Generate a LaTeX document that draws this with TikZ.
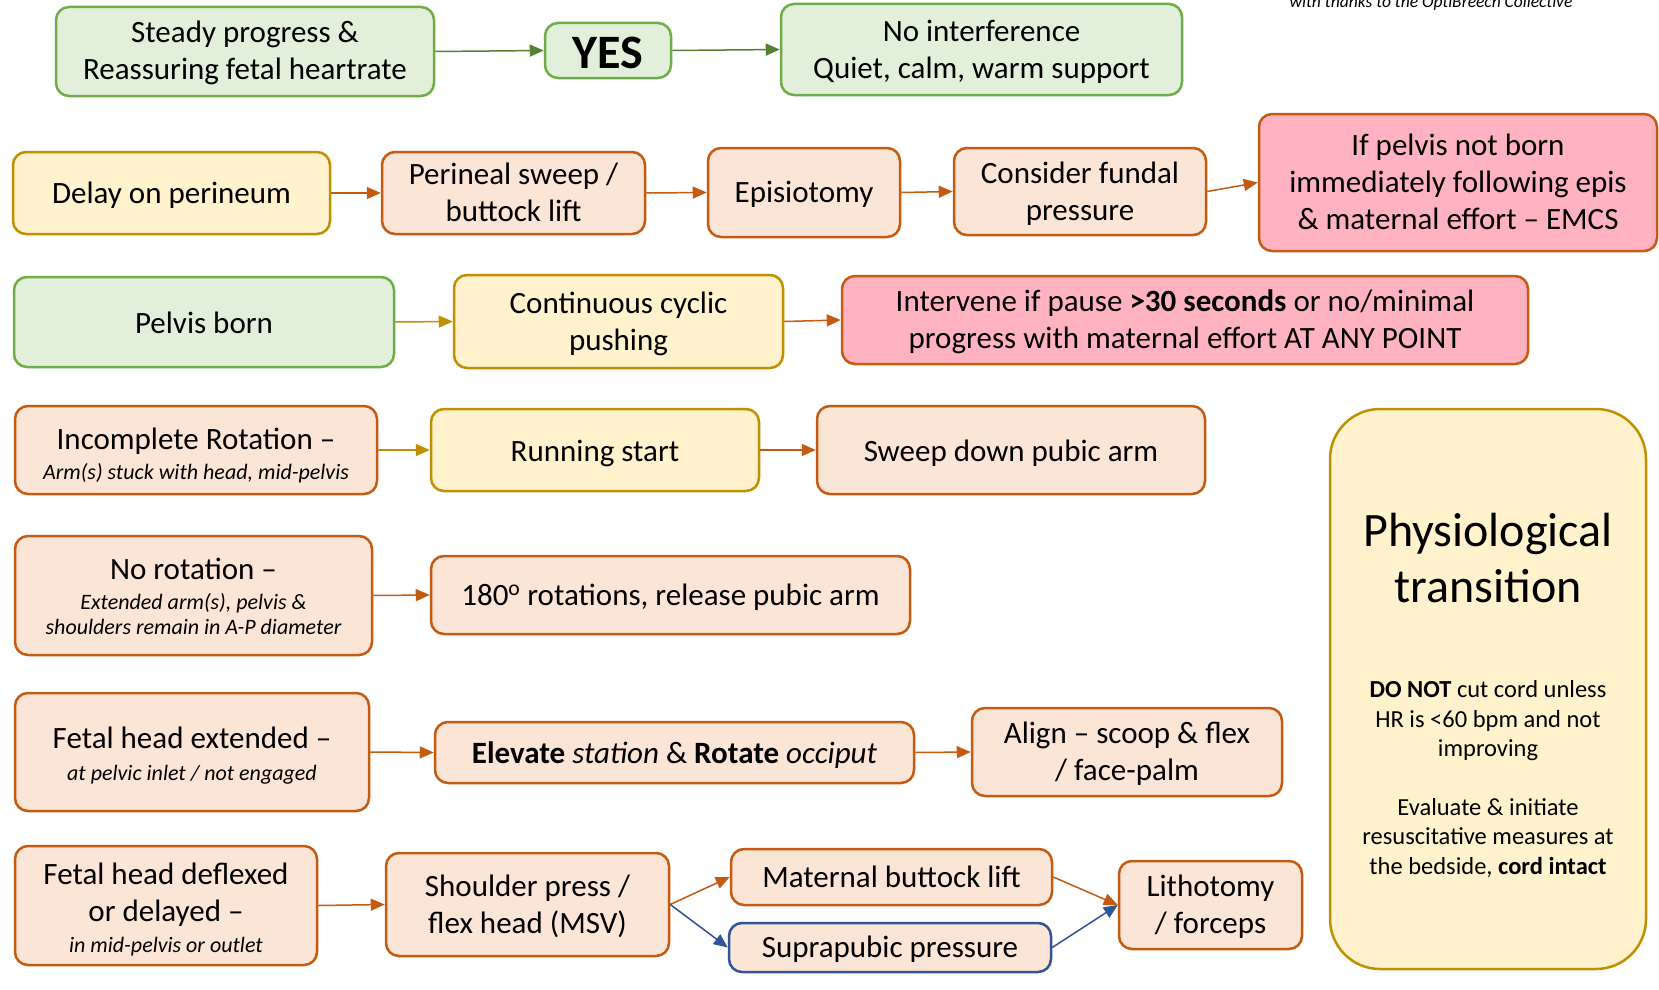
\documentclass[tikz,border=0pt]{standalone}
\usepackage{fontspec}
\setmainfont{Carlito}
\usetikzlibrary{arrows.meta}
\definecolor{gfill}{HTML}{E2EFDA}
\definecolor{gline}{HTML}{70AD47}
\definecolor{garr}{HTML}{548235}
\definecolor{yfill}{HTML}{FFF2CC}
\definecolor{yline}{HTML}{BF9000}
\definecolor{pfill}{HTML}{FBE5D6}
\definecolor{pline}{HTML}{C55A11}
\definecolor{rfill}{HTML}{FFB3C1}
\definecolor{bline}{HTML}{2F5597}
\newcommand\txm{\fontsize{31}{37}\selectfont}
\newcommand\txs{\fontsize{22}{26}\selectfont\itshape}
\def\topht{28pt}
\def\botdp{8pt}
\newcommand\ts{\rule{0pt}{\topht}}
\begin{document}
\begin{tikzpicture}[x=1pt,y=-1pt,
 tht/.store in=\topht, tdp/.store in=\botdp,
 box/.style={rounded corners=13pt, line width=2.5pt, align=center, inner sep=0pt, font=\txm,
   tht=28pt, tdp=8pt,
   execute at begin node={\rule{0pt}{\topht}},
   execute at end node={\rule[-\botdp]{0pt}{0pt}}},
 gbox/.style={box, draw=gline, fill=gfill},
 ybox/.style={box, draw=yline, fill=yfill},
 pbox/.style={box, draw=pline, fill=pfill},
 rbox/.style={box, draw=pline, fill=rfill},
 bbox/.style={box, draw=bline, fill=pfill},
 sz/.style 2 args={minimum width=#1pt, minimum height=#2pt},
 arr/.style={line width=1.5pt, -{Triangle[length=14pt,width=12pt]}},
 garrow/.style={arr, draw=garr, fill=garr},
 oarrow/.style={arr, draw=pline, fill=pline},
 yarrow/.style={arr, draw=yline, fill=yline},
 barrow/.style={arr, draw=bline, fill=bline},
]
\useasboundingbox (0,0) rectangle (1659,990);
\fill[white] (0,0) rectangle (1659,990);

\node[font=\fontsize{17.5}{20}\selectfont\itshape, anchor=base] (thanks) at (1431,8) {with thanks to the OptiBreech Collective};

% row 1
\node[gbox, sz={378}{89}] (steady) at (245,51.5) {\ts Steady progress \&\\Reassuring fetal heartrate};
\node[gbox, sz={126}{55}, font=\fontsize{48}{52}\selectfont\bfseries, tht=36pt, tdp=0pt] (yes) at (608,50.5) {YES};
\node[gbox, sz={401}{91}] (noint) at (981.5,49.5) {\ts No interference\\Quiet, calm, warm support};
\draw[garrow] (steady.east) -- (yes.west);
\draw[garrow] (yes.east) -- (noint.west);

% row 2
\node[ybox, sz={317}{82}] (delay) at (171.5,193) {Delay on perineum};
\node[pbox, sz={263}{82}] (sweep) at (513.5,193) {\ts Perineal sweep /\\buttock lift};
\node[pbox, sz={192}{89}] (epis) at (804,192.5) {Episiotomy};
\node[pbox, sz={252}{87}] (fundal) at (1080,191.5) {\ts Consider fundal\\pressure};
\node[rbox, sz={398}{137}] (ifpelvis) at (1458,182.5) {\ts If pelvis not born\\immediately following epis\\\& maternal effort -- EMCS};
\draw[oarrow] (delay.east) -- (sweep.west);
\draw[oarrow] (sweep.east) -- (epis.west);
\draw[oarrow] (epis.east) -- (fundal.west);
\draw[oarrow] (fundal.east) -- (ifpelvis.west);

% row 3
\node[gbox, sz={380}{90}, tht=30pt] (pborn) at (204,322) {Pelvis born};
\node[ybox, sz={329}{93}] (cont) at (618.5,321.5) {\ts Continuous cyclic\\pushing};
\node[rbox, sz={686}{88}] (interv) at (1185,320) {\ts Intervene if pause \textbf{>30 seconds} or no/minimal\\progress with maternal effort AT ANY POINT};
\draw[yarrow] (pborn.east) -- (cont.west);
\draw[oarrow] (cont.east) -- (interv.west);

% row 4
\node[pbox, sz={362}{88}, tht=36pt, tdp=7.5pt] (incomp) at (196,450) {\ts Incomplete Rotation --\\[-7pt]{\txs Arm(s) stuck with head, mid-pelvis}};
\node[ybox, sz={328}{82}, tht=30pt] (running) at (595,450) {Running start};
\node[pbox, sz={388}{88}, tht=30pt] (pubic) at (1011,450) {Sweep down pubic arm};
\draw[yarrow] (incomp.east) -- (running.west);
\draw[oarrow] (running.east) -- (pubic.west);

% physiological transition
\node[ybox, sz={316}{560}, rounded corners=50pt] (physio) at (1488,689) {};
\node[font=\fontsize{48}{56}\selectfont, align=center] (ptitle) at (1488,558) {Physiological\\transition};
\node[font=\fontsize{24.5}{29.5}\selectfont, align=center] (pcord) at (1488,721) {\textbf{DO NOT} cut cord unless\\HR is <60 bpm and not\\improving};
\node[font=\fontsize{24.5}{29.5}\selectfont, align=center] (peval) at (1488,838) {Evaluate \& initiate\\resuscitative measures at\\the bedside, \textbf{cord intact}};

% row 5
\node[pbox, sz={357}{119}, tht=30pt, tdp=7.5pt] (norot) at (193.5,595.5) {\ts No rotation --\\[-7pt]{\txs Extended arm(s), pelvis \&}\\[-11.5pt]{\txs shoulders remain in A-P diameter}};
\node[pbox, sz={479}{78}] (rot) at (670.5,595) {180\textsuperscript{o} rotations, release pubic arm};
\draw[oarrow] (norot.east) -- (rot.west);

% row 6
\node[pbox, sz={354}{118}, tht=32.5pt, tdp=7.5pt] (headext) at (192,752) {\ts Fetal head extended --\\[-5pt]{\txs at pelvic inlet / not engaged}};
\node[pbox, sz={479}{61}, tht=30pt] (elevate) at (674.5,752.5) {\textbf{Elevate} \textit{station} \& \textbf{Rotate} \textit{occiput}};
\node[pbox, sz={310}{88}] (align) at (1127,752) {\ts Align -- scoop \& flex\\/ face-palm};
\draw[oarrow] (headext.east) -- (elevate.west);
\draw[oarrow] (elevate.east) -- (align.west);

% row 7
\node[pbox, sz={302}{119}, tht=32.5pt, tdp=7.5pt] (deflex) at (166,905.5) {\ts Fetal head deflexed\\or delayed --\\[-6pt]{\txs in mid-pelvis or outlet}};
\node[pbox, sz={283}{103}] (shoulder) at (527.5,904.5) {\ts Shoulder press /\\flex head (MSV)};
\node[pbox, sz={321}{56}] (matlift) at (891.5,877) {Maternal buttock lift};
\node[bbox, sz={322}{49}] (supra) at (890,947.5) {Suprapubic pressure};
\node[pbox, sz={183}{88}] (litho) at (1210.5,905) {\ts Lithotomy\\/ forceps};
\draw[oarrow] (deflex.east) -- (shoulder.west);
\draw[oarrow] (shoulder.east) -- (matlift.west);
\draw[barrow] (shoulder.east) -- (supra.west);
\draw[oarrow] (matlift.east) -- (litho.west);
\draw[barrow] (supra.east) -- (litho.west);
\end{tikzpicture}
\end{document}
